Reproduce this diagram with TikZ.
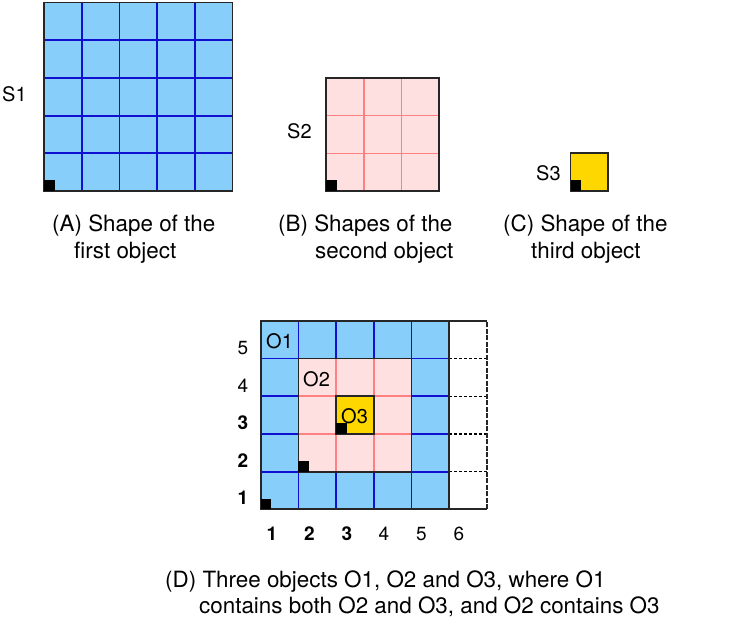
\documentclass[tikz,border=0pt]{standalone}
\usepackage{fontspec}
\setmainfont{TeX Gyre Heros}
\usepackage{tikz}
\usetikzlibrary{positioning}
\usepackage{xcolor}
\definecolor{objblue}{HTML}{87CEFA}
\definecolor{gridblue}{HTML}{1010D0}
\definecolor{objpink}{HTML}{FFE0E0}
\definecolor{gridpink}{HTML}{FF8080}
\definecolor{objgold}{HTML}{FFD700}
\definecolor{edgedark}{HTML}{262626}
\tikzset{
    label/.style={
        inner sep=0pt, anchor=base west, font=\fontsize{20}{24}\selectfont
    },
    axislabel/.style={
        inner sep=0pt, anchor=base, font=\fontsize{19}{24}\selectfont
    },
    caption/.style={
        inner sep=0pt, anchor=base west, font=\fontsize{22.4}{26}\selectfont
    },
    cellgrid/.style={
        x=37.7pt, y=37.7pt, step=37.7pt
    },
    bluegrid/.style={
        draw=gridblue, line width=1.8pt
    },
    pinkgrid/.style={
        draw=gridpink, line width=1.6pt
    },
    outline/.style={
        draw=edgedark, line width=1.8pt
    },
    corner/.style={
        fill=black
    },
    spare/.style={
        draw=black, line width=1.2pt, dash pattern=on 3pt off 2pt
    }
}

\begin{document}
\begin{tikzpicture}[x=1pt, y=-1pt]

    \useasboundingbox (0,0) rectangle (750,625);

    % (A) first object
    \begin{scope}[shift={(44,191)}, cellgrid]
        \fill[objblue] (0,0) rectangle (5,5);
        \draw[bluegrid] (0,0) grid (5,5);
        \draw[outline] (0,0) rectangle (5,5);
        \fill[corner] (0,0) rectangle (0.28,0.28);
    \end{scope}
    \node[label] (s1) at (2,101) {S1};
    \node[caption] (capa1) at (52,231) {(A) Shape of the};
    \node[caption] (capa2) at (74,258) {first object};

    % (B) second object
    \begin{scope}[shift={(326,191)}, cellgrid]
        \fill[objpink] (0,0) rectangle (3,3);
        \draw[pinkgrid] (0,0) grid (3,3);
        \draw[outline] (0,0) rectangle (3,3);
        \fill[corner] (0,0) rectangle (0.28,0.28);
    \end{scope}
    \node[label] (s2) at (287,138) {S2};
    \node[caption] (capb1) at (278,231) {(B) Shapes of the};
    \node[caption] (capb2) at (315,258) {second object};

    % (C) third object
    \begin{scope}[shift={(570.5,191)}, cellgrid]
        \fill[objgold] (0,0) rectangle (1,1);
        \draw[outline] (0,0) rectangle (1,1);
        \fill[corner] (0,0) rectangle (0.28,0.28);
    \end{scope}
    \node[label] (s3) at (536,180) {S3};
    \node[caption] (capc1) at (503,231) {(C) Shape of the};
    \node[caption] (capc2) at (531,258) {third object};

    % (D) objects placed together
    \begin{scope}[shift={(260.7,509.3)}, cellgrid]
        \fill[objblue] (0,0) rectangle (5,5);
        \draw[bluegrid] (0,0) grid (5,5);
        \draw[spare] (5,1) -- (6,1) (5,2) -- (6,2) (5,3) -- (6,3) (5,4) -- (6,4);
        \draw[outline] (5,0) -- (6,0) (5,5) -- (6,5);
        \draw[draw=edgedark, line width=1.8pt, dash pattern=on 5pt off 1.5pt] (6,0) -- (6,5);
        \fill[objpink] (1,1) rectangle (4,4);
        \draw[pinkgrid] (1,1) grid (4,4);
        \fill[objgold] (2,2) rectangle (3,3);
        \draw[outline] (0,0) rectangle (5,5);
        \draw[outline] (1,1) rectangle (4,4);
        \draw[outline] (2,2) rectangle (3,3);
        \fill[corner] (0,0) rectangle (0.28,0.28);
        \fill[corner] (1,1) rectangle (1.28,1.28);
        \fill[corner] (2,2) rectangle (2.28,2.28);
    \end{scope}
    \node[label] (o1) at (266,348) {O1};
    \node[label] (o2) at (303,386) {O2};
    \node[label] (o3) at (341,423) {O3};

    \node[axislabel] (row5) at (243,354) {5};
    \node[axislabel] (row4) at (243,392) {4};
    \node[axislabel] (row3) at (243,429) {\bfseries 3};
    \node[axislabel] (row2) at (243,467) {\bfseries 2};
    \node[axislabel] (row1) at (243,504) {\bfseries 1};

    \node[axislabel] (col1) at (272,540) {\bfseries 1};
    \node[axislabel] (col2) at (309.5,540) {\bfseries 2};
    \node[axislabel] (col3) at (347,540) {\bfseries 3};
    \node[axislabel] (col4) at (384,540) {4};
    \node[axislabel] (col5) at (421.5,540) {5};
    \node[axislabel] (col6) at (459,540) {6};

    \node[caption] (capd1) at (165,587) {(D) Three objects O1, O2 and O3, where O1};
    \node[caption] (capd2) at (199,613) {contains both O2 and O3, and O2 contains O3};

\end{tikzpicture}
\end{document}
